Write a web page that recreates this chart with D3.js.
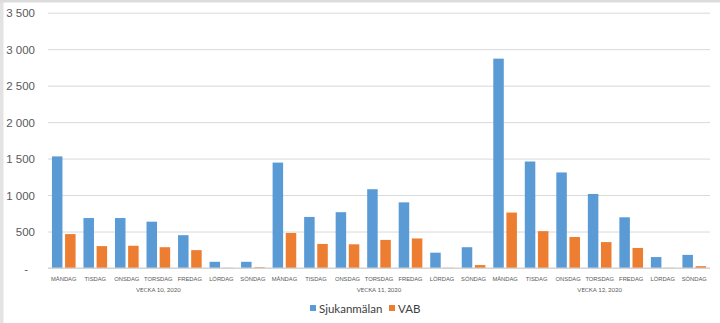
<!DOCTYPE html>
<html><head><meta charset="utf-8">
<script src="https://cdn.jsdelivr.net/npm/d3@7"></script>
<style>
html,body{margin:0;padding:0;background:#fff;}
svg{display:block;font-family:Lato,"Open Sans",sans-serif;}
</style></head>
<body><svg id="c" width="720" height="323"></svg>
<script>
const days = ["MÅNDAG","TISDAG","ONSDAG","TORSDAG","FREDAG","LÖRDAG","SÖNDAG"];
const weeks = ["VECKA 10, 2020","VECKA 11, 2020","VECKA 12, 2020"];
const seriesNames = ["Sjukanmälan","VAB"];
const sjukanmalan = [1530,685,685,635,450,85,85, 1445,700,765,1080,900,210,285, 2870,1460,1310,1015,695,150,180];
const vab = [465,300,305,285,245,3,10, 480,330,325,385,405,3,40, 760,505,425,355,275,3,25];
const yTicks = [0,500,1000,1500,2000,2500,3000,3500];
const colors = ["#5B9BD5","#ED7D31"];

const svg = d3.select("#c");
const L = 48, R = 710, T = 12.7, B = 268;

// frame
svg.append("rect").attr("x",0).attr("y",0).attr("width",3.5).attr("height",323).attr("fill","#e3e3e3");
svg.append("rect").attr("x",0).attr("y",0).attr("width",720).attr("height",2.5).attr("fill","#dcdcdc");

const cats = [];
weeks.forEach((w,wi)=>days.forEach((d,di)=>cats.push({id:wi*7+di, day:d, week:w})));
const x0 = d3.scaleBand().domain(cats.map(c=>c.id)).range([L,R]).paddingInner(0).paddingOuter(0);
const x1 = d3.scaleBand().domain(seriesNames).range([0,x0.bandwidth()]).paddingInner(0.2).paddingOuter(0.3);
const y = d3.scaleLinear().domain([0,3500]).range([B,T]);

// grid
const fmt = v => v===0 ? "-" : d3.format(",")(v).replace(/,/g," ");
const yAxis = d3.axisLeft(y).tickValues(yTicks).tickSize(-(R-L)).tickFormat(fmt).tickPadding(13);
const ga = svg.append("g").attr("transform",`translate(${L},0)`).call(yAxis);
ga.select(".domain").remove();
ga.selectAll(".tick line").attr("stroke","#d9d9d9").attr("stroke-width",1);
ga.selectAll(".tick text").attr("fill","#595959").style("font-size","11.5px").attr("dy","0.35em");
ga.selectAll(".tick").filter(d=>d===0).select("text").attr("dx",-7);

// bars
const data = cats.map((c,i)=>({id:c.id, vals:[sjukanmalan[i], vab[i]]}));
const g = svg.append("g");
data.forEach(d=>{
  d.vals.forEach((v,si)=>{
    g.append("rect")
      .attr("x", x0(d.id)+x1(seriesNames[si]))
      .attr("y", y(v))
      .attr("width", x1.bandwidth())
      .attr("height", B - y(v))
      .attr("fill", colors[si]);
  });
});

// baseline
svg.append("line").attr("x1",L).attr("x2",R).attr("y1",B).attr("y2",B).attr("stroke","#d0d0d0");

// category labels
const xa = d3.axisBottom(x0).tickFormat(id=>cats[id].day).tickSize(0).tickPadding(9);
const gx = svg.append("g").attr("transform",`translate(0,${B})`).call(xa);
gx.select(".domain").remove();
gx.selectAll(".tick text").attr("fill","#595959").style("font-size","5.8px");

// week labels
weeks.forEach((w,wi)=>{
  const xs = x0(wi*7), xe = x0(wi*7+6)+x0.bandwidth();
  svg.append("text").attr("x",(xs+xe)/2).attr("y",292).attr("text-anchor","middle")
    .attr("fill","#595959").style("font-size","6px").text(w);
});

// legend
const lg = svg.append("g");
const items = [{n:seriesNames[0], x:310},{n:seriesNames[1], x:389}];
items.forEach((it,i)=>{
  lg.append("rect").attr("x",it.x).attr("y",305).attr("width",6).attr("height",6).attr("fill",colors[i]);
  lg.append("text").attr("x",it.x+9).attr("y",312.5).attr("fill","#404040").style("font-size","11.5px").text(it.n);
});
</script></body></html>
